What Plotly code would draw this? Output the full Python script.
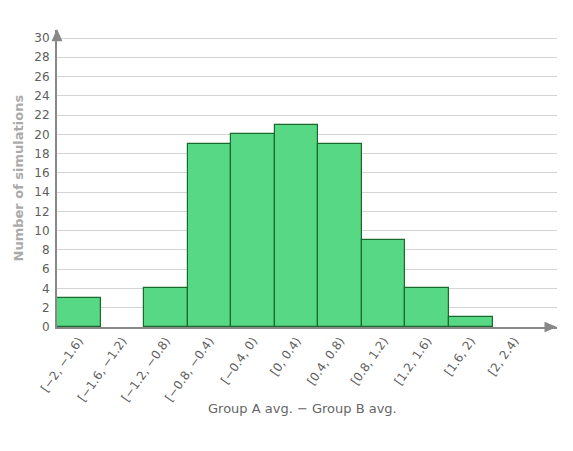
import plotly.graph_objects as go

categories = ["[−2, −1.6)", "[−1.6, −1.2)", "[−1.2, −0.8)", "[−0.8, −0.4)", "[−0.4, 0)",
              "[0, 0.4)", "[0.4, 0.8)", "[0.8, 1.2)", "[1.2, 1.6)", "[1.6, 2)", "[2, 2.4)"]
counts = [3, 0, 4, 19, 20, 21, 19, 9, 4, 1, 0]
y_ticks = list(range(0, 31, 2))

xpos = list(range(len(categories)))

fig = go.Figure()
fig.add_trace(go.Bar(
    x=xpos, y=counts, width=1,
    marker=dict(color="#57d884",
                line=dict(color="#1a6a2c", width=[1.2 if c > 0 else 0 for c in counts])),
    hoverinfo="skip",
))

font_family = "DejaVu Sans, Verdana, sans-serif"
fig.update_layout(
    width=573, height=451,
    margin=dict(l=57, r=16, t=30, b=124),
    plot_bgcolor="white", paper_bgcolor="white",
    showlegend=False, bargap=0,
    font=dict(family=font_family, color="#666", size=12),
    xaxis=dict(
        range=[-0.5, 10.98], tickmode="array", tickvals=xpos, ticktext=categories,
        tickangle=-55, showgrid=False, zeroline=False, automargin=False,
        showline=True, linecolor="#888", linewidth=2,
        tickfont=dict(size=12, color="#5e5e5e"),
    ),
    yaxis=dict(
        range=[0, 30.83], tickmode="array", tickvals=y_ticks,
        showgrid=True, gridcolor="#d4d4d4", gridwidth=1, zeroline=False, automargin=False,
        showline=True, linecolor="#888", linewidth=2,
        ticks="", ticklen=0, ticklabelstandoff=3,
        tickfont=dict(size=12, color="#5e5e5e"),
    ),
)

fig.add_annotation(text="Group A avg. − Group B avg.", xref="paper", yref="paper",
                   x=0.49, y=-0.275, xanchor="center", yanchor="middle", showarrow=False,
                   font=dict(size=13, color="#666"))
fig.add_annotation(text="<b>Number of simulations</b>", xref="paper", yref="paper",
                   x=-0.078, y=0.5, xanchor="center", yanchor="middle", showarrow=False,
                   textangle=-90, font=dict(size=13, color="#aaa"))

# arrowheads at ends of axes
fig.add_shape(type="path", xref="paper", yref="paper",
              path="M -0.011 0.962 L 0.011 0.962 L 0 1.003 Z",
              fillcolor="#888", line=dict(color="#888", width=0))
fig.add_shape(type="path", xref="paper", yref="paper",
              path="M 0.975 0.018 L 0.975 -0.018 L 1.0 0 Z",
              fillcolor="#888", line=dict(color="#888", width=0))

fig.write_html("out.html", post_script="document.body.style.margin='0';",
               config={"displayModeBar": False})
